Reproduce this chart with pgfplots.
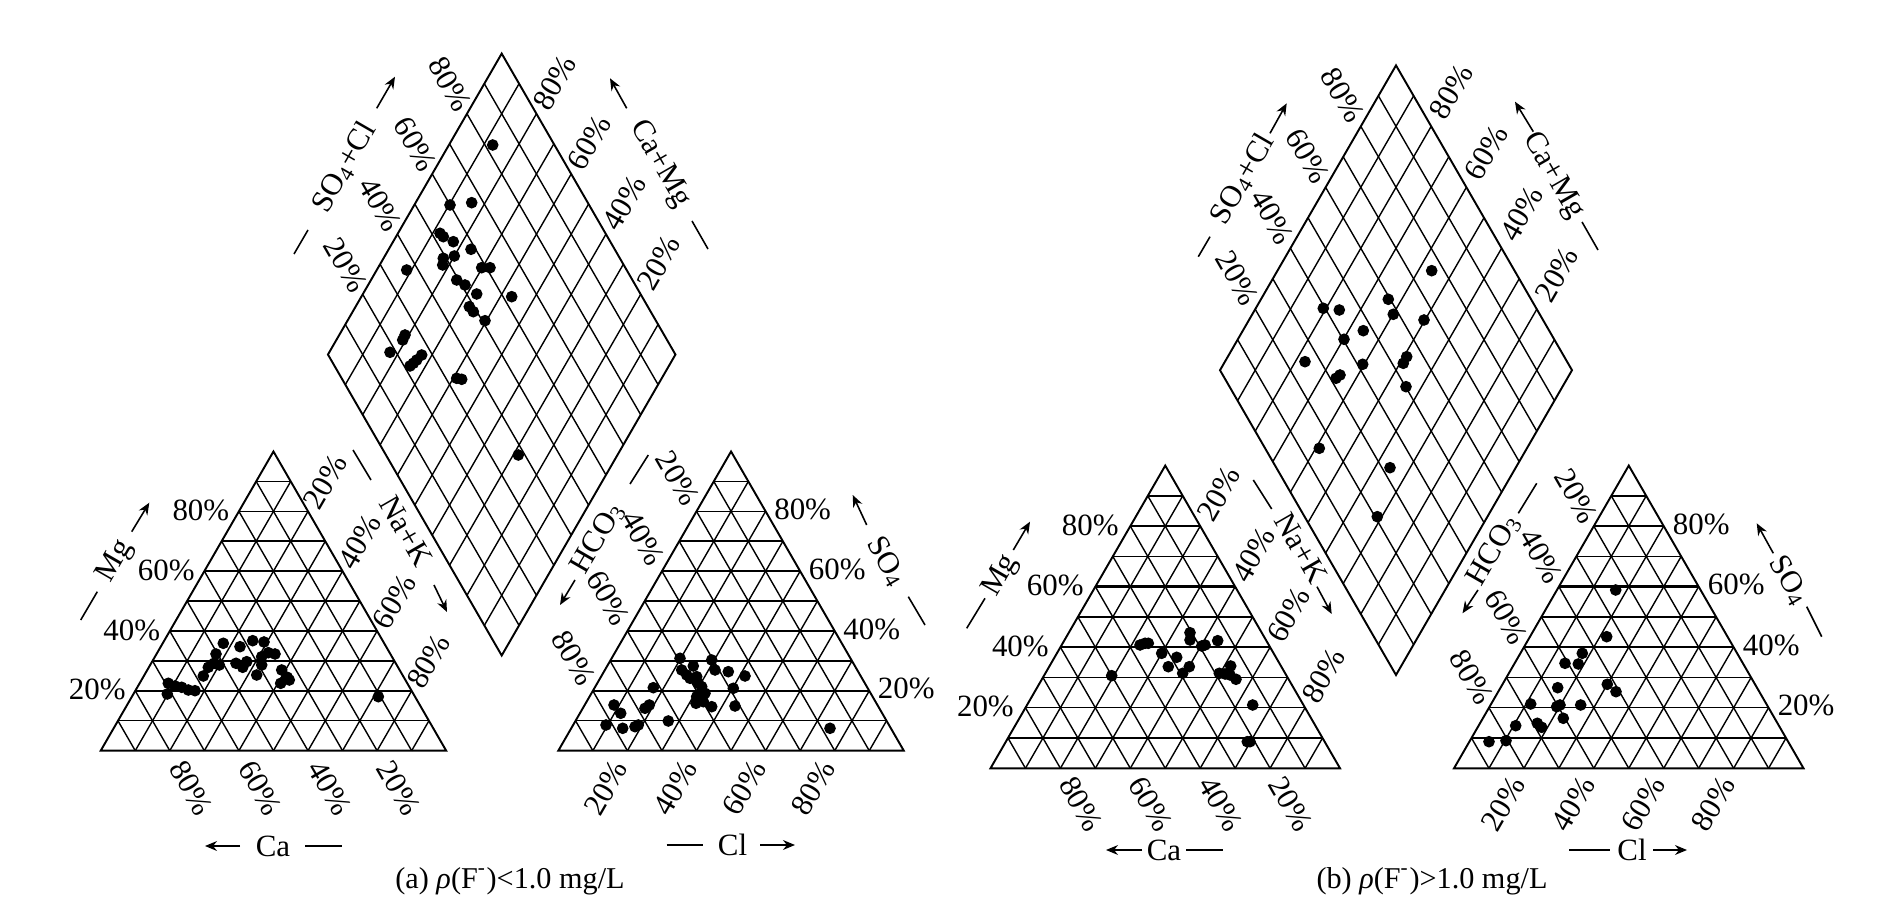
\documentclass[border=0pt]{standalone}
\usepackage{fontspec}
\setmainfont{Liberation Serif}
\usepackage{pgfplots}
\pgfplotsset{compat=1.18}
\usetikzlibrary{calc,arrows.meta}

\newcommand\trigrid[3]{%
  \foreach \t/\u in {0.1/0.9,0.2/0.8,0.3/0.7,0.4/0.6,0.5/0.5,0.6/0.4,0.7/0.3,0.8/0.2,0.9/0.1}{
    \draw[gridl] ($(#1)!\t!(#3)$) -- ($(#2)!\t!(#3)$);
    \draw[gridl] ($(#1)!\t!(#2)$) -- ($(#2)!\u!(#3)$);
    \draw[gridl] ($(#1)!\t!(#2)$) -- ($(#1)!\t!(#3)$);
  }
  \draw[outl] (#1) -- (#2) -- (#3) -- cycle;
}
\newcommand\thickrow[4]{%
  \foreach \t in {#4}{\draw[line width=0.7pt] ($(#1)!\t!(#3)$) -- ($(#2)!\t!(#3)$);}
}
\newcommand\diagrid[4]{%
  \foreach \t in {0.1,0.2,0.3,0.4,0.5,0.6,0.7,0.8,0.9}{
    \draw[gridl] ($(#1)!\t!(#2)$) -- ($(#3)!\t!(#4)$);
    \draw[gridl] ($(#1)!\t!(#3)$) -- ($(#2)!\t!(#4)$);
  }
  \draw[outl] (#1) -- (#3) -- (#4) -- (#2) -- cycle;
}
\newcommand\cationlabels[6]{%
  \foreach \p/\t/\u in {20/0.2/0.8,40/0.4/0.6,60/0.6/0.4,80/0.8/0.2}{
    \node[pct, anchor=east] at ($(#1)!\t!(#3)+(-#4,-1)$) {\p\%};
    \node[pct, anchor=west, rotate=60] at ($(#2)!\u!(#3)+({0.5*#5},{-0.866*#5})$) {\p\%};
    \node[pct, anchor=west, rotate=-60] at ($(#1)!\u!(#2)+({0.5*#6},{0.866*#6})$) {\p\%};
  }
}
\newcommand\anionlabels[6]{%
  \foreach \p/\t/\u in {20/0.2/0.8,40/0.4/0.6,60/0.6/0.4,80/0.8/0.2}{
    \node[pct, anchor=west] at ($(#2)!\t!(#3)+(#4,-2)$) {\p\%};
    \node[pct, anchor=east, rotate=-60] at ($(#1)!\u!(#3)+({-0.5*#5},{-0.866*#5})$) {\p\%};
    \node[pct, anchor=east, rotate=60] at ($(#1)!\t!(#2)+({-0.5*#6},{0.866*#6})$) {\p\%};
  }
}
\newcommand\diamondlabels[6]{%
  \foreach \p/\t in {20/0.2,40/0.4,60/0.6,80/0.8}{
    \node[pct, anchor=east, rotate=-60] at ($(#2)!\t!(#4)+({-0.5*#5},{-0.866*#5})$) {\p\%};
    \node[pct, anchor=west, rotate=60] at ($(#3)!\t!(#4)+({0.5*#6},{-0.866*#6})$) {\p\%};
  }
}

\begin{document}
\begin{tikzpicture}[
  gridl/.style={line width=0.4pt, black},
  outl/.style={line width=0.55pt, black},
  pct/.style={inner sep=0pt, font=\fontsize{8.8}{10}\selectfont},
  lab/.style={inner sep=0pt, font=\fontsize{8.8}{10}\selectfont},
  ln/.style={line width=0.45pt},
  arr/.style={line width=0.45pt, -{Stealth[length=3.4pt,width=2.8pt]}}]
\begin{axis}[
  at={(0,0)}, anchor=south west,
  scale only axis, width=188.3mm, height=90.8mm,
  xmin=0, xmax=1883, ymin=0, ymax=908, y dir=reverse,
  hide axis, clip=false]
% (a) cation triangle
\addplot[only marks, mark=*, mark size=1.45pt, black] table {
x y
168.3 683.3
167.3 694
175 686
181.7 687.3
188.3 690
195 690.7
203.3 676
208.3 667.3
214 663.3
216 654
219.3 665
223.3 643.3
240 646.7
252.7 640.7
264 642
268.3 652.7
275 654
236 663.3
242.7 667.3
246.7 661.7
256.7 675
261.7 665
261.7 656.7
281.7 670
287.3 677.3
280.7 683.3
289.3 680
378.3 696.7
};
% (a) anion triangle
\addplot[only marks, mark=*, mark size=1.45pt, black] table {
x y
606 725
614 705
620.7 713.3
622.7 728.3
635 726.7
638.3 725
645 708.3
649.3 705
653.3 687.7
668.3 721
680 658.3
681.7 670
686.7 675
693.3 666
696.7 676.7
711.7 660
715 670
728.3 671.7
745 676
701.7 686.7
705 693.3
696.7 696.7
696 703.3
703.3 701.7
711.7 706.7
733.3 688.3
735 706
830 728.3
698.3 683.3
690 678.3
};
% (a) diamond
\addplot[only marks, mark=*, mark size=1.45pt, black] table {
x y
492.7 145
471.7 202.7
450 205
440 233.3
443.3 236.7
453.3 241.7
471 249.3
454.3 256
443.3 258.3
442.7 265
406.7 270
481.7 267.7
490 267.7
456.7 280
465 285
476.7 294
511.7 296.7
469.3 306.7
473.3 311.7
485 320.7
405 335
402.7 340
390 352.3
421.7 355
416.7 360
413.3 363.3
410 366
456.7 378.3
461.7 379.3
518.3 455
};
% (b) cation triangle
\addplot[only marks, mark=*, mark size=1.45pt, black] table {
x y
1111.7 675.7
1140 645
1145 643.3
1148.3 643.3
1161.7 653.3
1176.7 657.3
1168.3 666.7
1182.7 673.3
1189.3 666.7
1190 632.7
1190 640
1201.7 646
1205 645
1217.7 640.7
1219.3 673.3
1225 674
1230.7 666
1230 675
1236 679.3
1252.7 705
1247.3 741.7
1250 741.7
};
% (b) anion triangle
\addplot[only marks, mark=*, mark size=1.45pt, black] table {
x y
1615.7 590
1606.7 636.7
1582.3 653.3
1565 663.3
1578.3 664
1557.7 687.7
1607.3 684.3
1616 691.7
1530.7 704
1556.7 706.7
1560 705
1580.7 705
1563.3 718.3
1515.7 725.7
1537.3 723.3
1541.7 727.3
1489 741.7
1506 740.7
};
% (b) diamond
\addplot[only marks, mark=*, mark size=1.45pt, black] table {
x y
1431.7 270.7
1388.3 299.3
1323.3 308.3
1339.3 310
1393.3 314.3
1424 320
1363.3 330.7
1344 339.3
1305 361.7
1362.7 364.3
1406.7 356.7
1403.3 363.3
1340 375
1336 378.3
1406 386.7
1319.3 448.3
1390 467.7
1377.3 516.7
};
\end{axis}

\begin{scope}[shift={(0mm,90.8mm)}, x=0.1mm, y=-0.1mm]
\path (0,0) rectangle (1883,908);
% ---------- geometry (a)
\coordinate (aC0) at (100.7,750.7);
\coordinate (aC1) at (446.2,750.7);
\coordinate (aC2) at (273.45,451.5);
\coordinate (aA0) at (558.3,750.7);
\coordinate (aA1) at (903.8,750.7);
\coordinate (aA2) at (731.05,451.5);
\coordinate (aDb) at (501.7,655.5);
\coordinate (aDl) at (327.95,354.55);
\coordinate (aDr) at (675.45,354.55);
\coordinate (aDt) at (501.7,53.6);
% ---------- geometry (b)
\coordinate (bC0) at (990.5,768.3);
\coordinate (bC1) at (1340,768.3);
\coordinate (bC2) at (1165.25,465.6);
\coordinate (bA0) at (1454,768.3);
\coordinate (bA1) at (1803.5,768.3);
\coordinate (bA2) at (1628.75,465.6);
\coordinate (bDb) at (1396,675);
\coordinate (bDl) at (1220,370.2);
\coordinate (bDr) at (1572,370.2);
\coordinate (bDt) at (1396,65.4);

\trigrid{aC0}{aC1}{aC2}
\trigrid{aA0}{aA1}{aA2}
\diagrid{aDb}{aDl}{aDr}{aDt}
\trigrid{bC0}{bC1}{bC2}
\trigrid{bA0}{bA1}{bA2}
\diagrid{bDb}{bDl}{bDr}{bDt}
\thickrow{aC0}{aC1}{aC2}{0.4,0.6,0.7}
\thickrow{aA0}{aA1}{aA2}{0.4,0.6,0.7}
\thickrow{bC0}{bC1}{bC2}{0.1,0.4,0.6}
\thickrow{bA0}{bA1}{bA2}{0.1,0.4,0.6}

\cationlabels{aC0}{aC1}{aC2}{9}{5}{14}
\anionlabels{aA0}{aA1}{aA2}{8}{9}{14}
\diamondlabels{aDb}{aDl}{aDr}{aDt}{5}{7}
\cationlabels{bC0}{bC1}{bC2}{11}{8}{12}
\anionlabels{bA0}{bA1}{bA2}{8.5}{6}{12}
\diamondlabels{bDb}{bDl}{bDr}{bDt}{7}{11}

% ---------- element labels (a)
\draw[ln] (80.7,620) -- (97.3,591.7);
\node[lab, rotate=60] at (115.8,561.7) {Mg};
\draw[arr] (131.7,531.7) -- (149.3,502.7);

\draw[ln] (353,450) -- (371,480);
\node[lab, rotate=-60] at (406,531) {Na+K};
\draw[arr] (434,585) -- (447,612);

\draw[ln] (294,254) -- (308,230);
\node[lab, rotate=60] at (344,167.5) {SO\textsubscript{4}+Cl};
\draw[arr] (376.7,108.3) -- (395,76.7);

\draw[arr] (626.7,108.3) -- (610,78.3);
\node[lab, rotate=-60] at (660,164) {Ca+Mg};
\draw[ln] (692,221) -- (708,249);

\draw[ln] (648.3,455) -- (630,484);
\node[lab, rotate=60] at (598,538) {HCO\textsubscript{3}};
\draw[arr] (575,580) -- (560,605);

\draw[arr] (866.7,525) -- (852.7,495);
\node[lab, rotate=-60] at (886.7,561.7) {SO\textsubscript{4}};
\draw[ln] (908.3,596.7) -- (925,625);

\draw[arr] (240,846) -- (205,846);
\node[lab] at (273,846) {Ca};
\draw[ln] (305,846) -- (341.7,846);

\draw[ln] (666.7,845) -- (703.3,845);
\node[lab] at (732.5,845) {Cl};
\draw[arr] (760,845) -- (795,845);

\node[lab, font=\fontsize{8.6}{10}\selectfont] at (510,881) {(a) \textit{ρ}(F\textsuperscript{-})<1.0 mg/L};

% ---------- element labels (b)
\draw[ln] (966.7,628.3) -- (985,598.3);
\node[lab, rotate=60] at (1001,576) {Mg};
\draw[arr] (1013.3,550) -- (1030,521.7);

\draw[ln] (1253.3,480) -- (1271.7,509);
\node[lab, rotate=-60] at (1301,548.3) {Na+K};
\draw[arr] (1317,586.7) -- (1331.7,614);

\draw[ln] (1198.3,256.7) -- (1210,236.7);
\node[lab, rotate=60] at (1242.5,179) {SO\textsubscript{4}+Cl};
\draw[arr] (1270,133.3) -- (1286.7,103.3);

\draw[arr] (1533.3,131.7) -- (1515,101.7);
\node[lab, rotate=-60] at (1553.3,175.8) {Ca+Mg};
\draw[ln] (1582,222) -- (1598,250);

\draw[ln] (1536.7,483.3) -- (1518.3,513.3);
\node[lab, rotate=60] at (1494,550) {HCO\textsubscript{3}};
\draw[arr] (1478,590) -- (1462.5,613.3);

\draw[arr] (1773.3,553.3) -- (1756.7,523.3);
\node[lab, rotate=-60] at (1789,580.8) {SO\textsubscript{4}};
\draw[ln] (1806.7,606.7) -- (1821.7,636.7);

\draw[arr] (1142,850) -- (1106,850);
\node[lab] at (1164,850) {Ca};
\draw[ln] (1186,850) -- (1223,850);

\draw[ln] (1569,850) -- (1610,850);
\node[lab] at (1632,850) {Cl};
\draw[arr] (1653,850) -- (1687,850);

\node[lab, font=\fontsize{8.6}{10}\selectfont] at (1432,881) {(b) \textit{ρ}(F\textsuperscript{-})>1.0 mg/L};
\end{scope}
\end{tikzpicture}
\end{document}
